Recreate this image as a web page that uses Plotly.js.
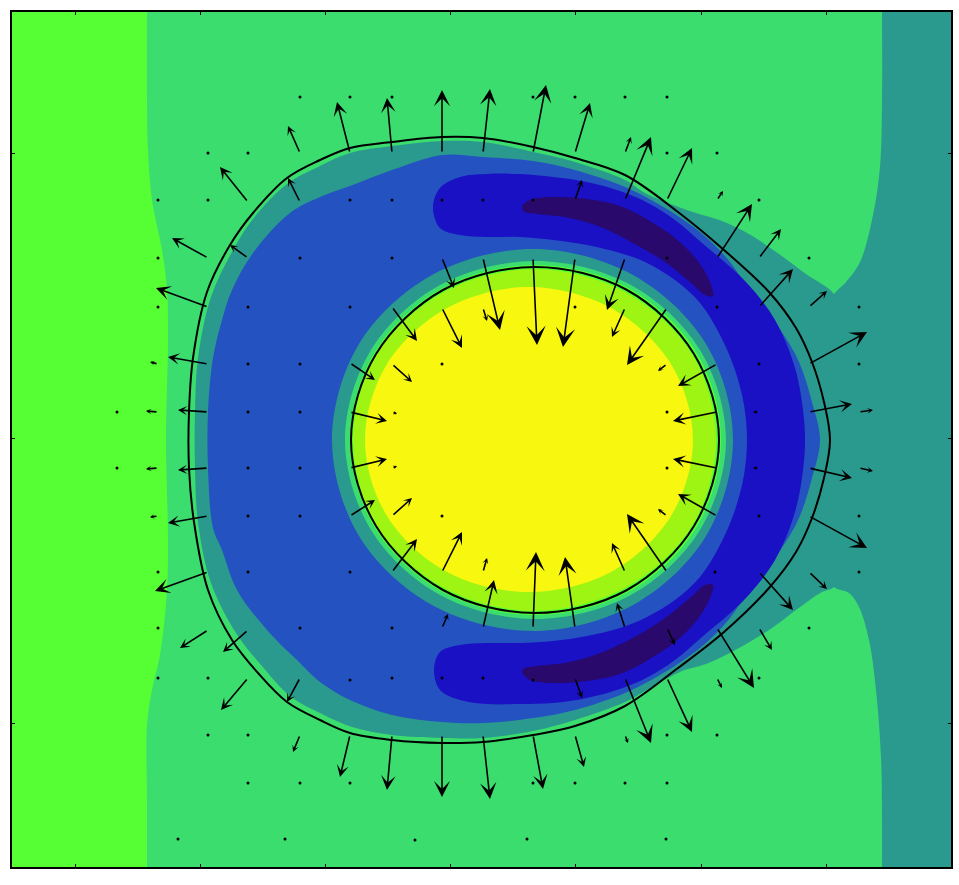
<!DOCTYPE html>
<html>
<head>
<meta charset="utf-8">
<script src="https://cdn.plot.ly/plotly-3.0.1.min.js"></script>
<style>
  html, body { margin: 0; padding: 0; background: #fff; }
  #chart { width: 959px; height: 885px; }
</style>
</head>
<body>
<div id="chart"></div>
<script>
// Field map on an image-style grid (x right, y down).

// level colours, low -> high
var C_NAVY = "#29096c", C_DBLUE = "#1a10c4", C_BLUE = "#2452c0", C_TEAL = "#2a9a8e";
var C_GREEN = "#3bdd6e", C_BRIGHT = "#55ff33", C_LIME = "#9ef514", C_YELLOW = "#f7f710";

// region boundaries (corner points sit far outside the axes so the spline stays straight on screen)
var leftStripX = [-30, 147, 147, 147, 147, 148, 152, 162, 167, 168, 166, 168, 167, 160, 152, 147, 147, 147, 147, -30];
var leftStripY = [-200, -200, -100, 0, 100, 150, 200, 250, 290, 340, 440, 540, 590, 655, 690, 725, 800, 900, 1000, 1000];

var rightStripX = [1100, 882, 882, 882, 882, 880, 873, 860, 846, 834, 810, 800, 810, 834, 849, 859, 869, 876, 881, 882, 882, 882, 1100];
var rightStripY = [-200, -200, -100, 0, 100, 167, 215, 262, 282, 294, 330, 440, 550, 587, 593, 607, 640, 690, 757, 820, 900, 1000, 1000];

var outerTealX = [834, 806, 779, 749, 722, 696, 668, 645, 625, 575, 533, 483, 442, 392, 350, 320, 287, 253, 232, 211, 198, 195,
  195, 198, 211, 236, 262, 290, 322, 352, 392, 442, 483, 533, 575, 625, 652, 682, 706, 739, 772, 796, 822, 834, 845, 850, 845, 834];
var outerTealY = [294, 274, 254, 234, 221, 213, 203, 193, 180, 162, 152, 142, 141, 146, 153, 166, 184, 219, 252, 297, 358, 412,
  468, 522, 583, 633, 666, 696, 714, 727, 735, 738, 738, 731, 720, 702, 687, 671, 664, 648, 628, 610, 592, 587, 560, 440, 320, 294];

var blueX = [442, 483, 533, 575, 625, 660, 700, 730, 752, 779, 799, 812, 820, 812, 799, 779, 752, 730, 700, 660, 625, 575, 533,
  483, 442, 392, 350, 320, 300, 267, 237, 222, 213, 208, 208, 213, 222, 232, 253, 290, 320, 350, 392, 442];
var blueY = [155, 157, 161, 170, 187, 205, 232, 262, 295, 328, 362, 402, 440, 478, 518, 552, 585, 618, 648, 675, 693, 710, 718,
  723, 722, 715, 700, 682, 663, 630, 590, 550, 528, 468, 412, 358, 320, 290, 253, 213, 197, 186, 170, 155];

var darkBlueX = [433, 440, 460, 487, 520, 553, 587, 620, 648, 675, 702, 745, 775, 795, 803, 805, 803, 795, 775, 745, 702, 675, 648,
  620, 587, 553, 520, 487, 460, 440, 434, 440, 460, 487, 520, 553, 587, 620, 645, 675, 700, 720, 735, 744, 747, 744, 735, 720, 700,
  675, 645, 620, 587, 553, 520, 487, 460, 440, 433];
var darkBlueY = [207, 188, 177, 174, 174, 177, 182, 191, 203, 220, 243, 281, 320, 368, 410, 440, 470, 512, 560, 599, 637, 660, 677,
  689, 698, 703, 704, 704, 700, 690, 670, 652, 645, 643, 643, 641, 636, 628, 618, 600, 577, 545, 510, 475, 440, 405, 370, 335, 303,
  280, 262, 253, 245, 240, 237, 237, 235, 228, 207];

var navyTopX = [522, 530, 553, 587, 620, 648, 675, 697, 710, 713, 705, 690, 665, 640, 603, 570, 537, 525, 522];
var navyTopY = [207, 200, 197, 199, 206, 220, 238, 260, 282, 296, 295, 282, 262, 247, 228, 218, 214, 212, 207];
var navyBotX = [522, 530, 553, 587, 620, 648, 675, 697, 710, 713, 705, 690, 665, 640, 603, 570, 537, 525, 522];
var navyBotY = [672, 680, 683, 681, 674, 660, 642, 620, 598, 585, 585, 598, 618, 634, 652, 662, 666, 668, 672];

// rings of the inner disc, outside -> inside
var ringTealX = [733, 706, 633, 533, 432, 359, 332, 359, 432, 533, 633, 706, 733];
var ringTealY = [440, 344, 275, 249, 275, 344, 440, 536, 605, 631, 605, 536, 440];
var ringGreenX = [726, 700, 631, 535, 440, 371, 345, 371, 440, 535, 631, 700, 726];
var ringGreenY = [440, 350, 285, 261, 285, 350, 440, 530, 595, 619, 595, 530, 440];
var ringBrightX = [721, 696, 628, 535, 443, 375, 350, 375, 443, 535, 628, 696, 721];
var ringBrightY = [440, 352, 288, 265, 288, 352, 440, 528, 592, 615, 592, 528, 440];
var ringLimeX = [716, 692, 625, 534, 444, 377, 353, 377, 444, 534, 625, 692, 716];
var ringLimeY = [440, 354, 292, 269, 292, 354, 440, 526, 588, 611, 588, 526, 440];
var ringYellowX = [693, 671, 611, 529, 447, 387, 365, 387, 447, 529, 611, 671, 693];
var ringYellowY = [440, 364, 308, 287, 308, 364, 440, 516, 572, 592, 572, 516, 440];

// the two black interface lines
var outerLineX = [442, 483, 533, 575, 625, 678, 724, 769, 796, 812, 824, 830, 824, 812, 796, 769, 724, 678, 625, 575, 533, 483,
  442, 392, 350, 320, 287, 258, 232, 208, 194, 189, 189, 193, 207, 230, 253, 287, 320, 350, 392, 442];
var outerLineY = [137, 138, 147, 158, 175, 212, 250, 292, 328, 362, 402, 440, 478, 518, 552, 588, 632, 668, 706, 726, 735, 742,
  743, 740, 733, 720, 702, 673, 640, 590, 522, 468, 412, 358, 292, 245, 213, 178, 160, 148, 142, 137];
var innerLineX = [719, 694, 627, 535, 443, 376, 351, 376, 443, 535, 627, 694, 719];
var innerLineY = [440, 354, 290, 267, 290, 354, 440, 526, 590, 613, 590, 526, 440];

// velocity arrows: tail (x, y) and components (u, v)
var arrowX = [300, 350, 392, 442, 483, 533, 575, 625, 248, 300, 575, 625, 667, 717, 208, 248, 442, 483, 533, 575, 625, 717, 759,
  208, 392, 442, 483, 625, 667, 759, 809, 158, 208, 350, 392, 667, 717, 809, 158, 208, 350, 392, 717, 759, 809, 859,
  158, 208, 350, 392, 717, 759, 809, 859, 158, 208, 350, 392, 667, 717, 809, 208, 392, 442, 483, 625, 667, 759, 809,
  208, 248, 442, 483, 533, 575, 625, 667, 717, 759, 248, 300, 575, 625, 667, 717, 300, 350, 392, 442, 483, 533, 575, 625];
var arrowY = [153, 153, 153, 153, 153, 153, 153, 153, 202, 202, 200, 200, 200, 200, 258, 258, 258, 258, 258, 258, 258, 258, 258,
  307, 307, 308, 308, 308, 308, 307, 307, 364, 364, 363, 364, 364, 364, 364, 412, 412, 412, 412, 412, 412, 412, 412,
  468, 468, 468, 468, 468, 468, 468, 468, 516, 516, 516, 516, 516, 516, 516, 572, 572, 572, 572, 572, 572, 572, 572,
  630, 630, 628, 628, 628, 628, 628, 628, 628, 628, 678, 678, 678, 678, 678, 678, 735, 735, 735, 735, 735, 735, 735, 735];
var arrowU = [-12, -13, -5, 0, 7, 13, 15, 6, -28, -12, 7, 26, 25, 6, -36, -18, 12, 17, 4, -12, -18, 35, 22,
  -52, 25, 20, 4, -13, -40, 34, 18, -8, -40, 25, 20, -9, -39, 58, -12, -30, 37, 5, -44, -6, 43, 14,
  -12, -30, 37, 5, -44, -6, 43, 14, -8, -40, 25, 20, -9, -39, 58, -53, 25, 20, 4, -13, -40, 34, 18,
  -28, -25, 6, 11, 3, -10, -8, 8, 37, 13, -27, -13, 7, 26, 25, 5, -7, -10, -5, 0, 7, 10, 9, 3];
var arrowV = [-27, -51, -55, -63, -64, -68, -50, -16, -35, -24, -20, -63, -52, -9, -20, -13, 30, 72, 87, 89, 52, -54, -29,
  -19, 34, 40, 13, 29, 57, -38, -16, -2, -7, 17, 18, 7, 22, -32, -1, -2, 9, 2, 9, 0, -8, -2,
  1, 2, -9, -2, -9, 0, 10, 3, 1, 7, -16, -18, -7, -22, 32, 19, -33, -40, -14, -29, -58, 38, 17,
  18, 22, -14, -48, -76, -71, -25, 17, 60, 22, 32, 24, 20, 65, 54, 10, 17, 42, 55, 62, 64, 54, 32, 8];

// grid points whose arrows are too short to show more than a dot
var dotX = [300, 350, 392, 533, 575, 625, 667, 208, 248, 667, 717, 158, 208, 350, 392, 442, 483, 533, 759,
  158, 300, 392, 667, 809, 158, 248, 350, 575, 717, 859, 248, 300, 442, 759, 859, 117, 248, 300, 667,
  117, 248, 300, 667, 248, 300, 442, 759, 859, 158, 248, 350, 715, 859, 158, 300, 392, 809,
  158, 208, 350, 392, 442, 483, 533, 759, 208, 248, 667, 717, 248, 300, 350, 533, 575, 625, 667,
  178, 285, 415, 527, 666];
var dotY = [97, 97, 97, 97, 97, 97, 97, 153, 153, 153, 153, 200, 200, 200, 200, 200, 200, 200, 200,
  258, 258, 258, 258, 258, 307, 307, 307, 307, 307, 307, 364, 364, 364, 364, 364, 412, 412, 412, 412,
  468, 468, 468, 468, 516, 516, 516, 516, 516, 572, 572, 572, 572, 572, 628, 628, 628, 628,
  678, 678, 680, 678, 678, 678, 680, 678, 735, 735, 735, 735, 783, 783, 783, 783, 783, 783, 783,
  839, 839, 840, 839, 839];

var tickXVals = [75, 200, 325, 450, 575, 701, 826];
var tickYVals = [153, 438, 723];

function region(xs, ys, color) {
  return {
    type: "scatter", mode: "lines", x: xs, y: ys, fill: "toself", fillcolor: color,
    line: { width: 0, shape: "spline", smoothing: 1, color: color },
    hoverinfo: "skip", showlegend: false
  };
}

function contourLine(xs, ys) {
  return {
    type: "scatter", mode: "lines", x: xs, y: ys,
    line: { width: 2, color: "#000", shape: "spline", smoothing: 1 },
    hoverinfo: "skip", showlegend: false
  };
}

var traces = [
  region(leftStripX, leftStripY, C_BRIGHT),
  region(rightStripX, rightStripY, C_TEAL),
  region(outerTealX, outerTealY, C_TEAL),
  region(blueX, blueY, C_BLUE),
  region(darkBlueX, darkBlueY, C_DBLUE),
  region(navyTopX, navyTopY, C_NAVY),
  region(navyBotX, navyBotY, C_NAVY),
  region(ringTealX, ringTealY, C_TEAL),
  region(ringGreenX, ringGreenY, C_GREEN),
  region(ringBrightX, ringBrightY, C_BRIGHT),
  region(ringLimeX, ringLimeY, C_LIME),
  region(ringYellowX, ringYellowY, C_YELLOW),
  contourLine(outerLineX, outerLineY),
  contourLine(innerLineX, innerLineY),
  {
    type: "scatter", mode: "markers", x: dotX, y: dotY,
    marker: { size: 3, color: "#000", line: { width: 0 } },
    hoverinfo: "skip", showlegend: false
  }
];

// quiver arrows as annotations, head size grows with arrow length
var arrows = arrowX.map(function (x0, i) {
  var u = arrowU[i], v = arrowV[i];
  var len = Math.sqrt(u * u + v * v);
  return {
    x: x0 + u, y: arrowY[i] + v, ax: x0, ay: arrowY[i],
    xref: "x", yref: "y", axref: "x", ayref: "y",
    text: "", showarrow: true, arrowhead: 3,
    arrowsize: Math.max(0.4, Math.min(2.0, 0.3 + len * 0.022)),
    arrowwidth: 1.6, arrowcolor: "#000"
  };
});

function axis(range, vals) {
  return {
    range: range, showgrid: false, zeroline: false, showline: true, mirror: "ticks",
    linecolor: "#000", linewidth: 2, ticks: "inside", ticklen: 3, tickcolor: "#000",
    tickvals: vals, showticklabels: false, fixedrange: true
  };
}

var layout = {
  width: 959, height: 885,
  margin: { l: 12, r: 8, t: 12, b: 18 },
  paper_bgcolor: "#fff", plot_bgcolor: C_GREEN,
  xaxis: axis([12, 951], tickXVals),
  yaxis: axis([867, 12], tickYVals),
  annotations: arrows,
  showlegend: false
};

Plotly.newPlot("chart", traces, layout, { staticPlot: true, displayModeBar: false });
</script>
</body>
</html>
